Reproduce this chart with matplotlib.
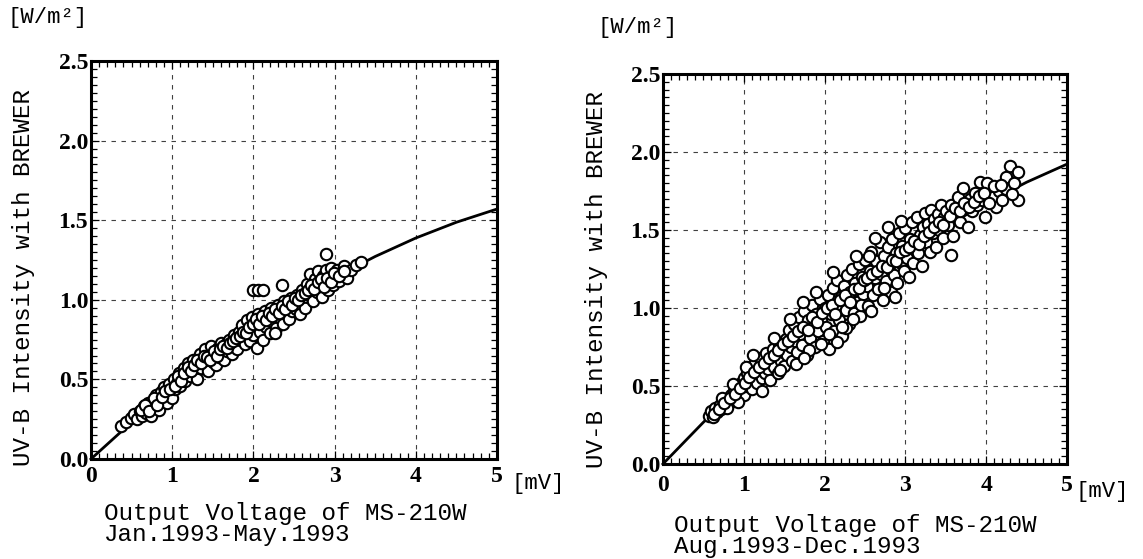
import matplotlib
matplotlib.use("Agg")
import matplotlib.pyplot as plt
import numpy as np
from matplotlib.ticker import MultipleLocator

# fitted curves
fit_x = [0.0, 0.5, 1.0, 1.5, 2.0, 2.5, 3.0, 3.5, 4.0, 4.5, 5.0]
fit_jan = [0.0, 0.231, 0.446, 0.644, 0.826, 0.990, 1.140, 1.272, 1.388, 1.487, 1.570]
fit_aug = [0.0, 0.267, 0.518, 0.752, 0.969, 1.170, 1.354, 1.521, 1.672, 1.806, 1.922]

# Jan.1993-May.1993 points (mV, W/m2)
pts_jan = [
    (0.37, 0.21), (0.43, 0.23), (0.49, 0.26), (0.53, 0.28), (0.57, 0.25), (0.60, 0.30), (0.63, 0.27),
    (0.65, 0.33), (0.68, 0.29), (0.70, 0.35), (0.72, 0.31), (0.74, 0.27), (0.76, 0.36), (0.78, 0.33),
    (0.80, 0.40), (0.82, 0.35), (0.84, 0.31), (0.86, 0.42), (0.88, 0.37), (0.90, 0.45), (0.92, 0.40),
    (0.94, 0.35), (0.96, 0.47), (0.98, 0.42), (1.00, 0.38),
    (1.02, 0.50), (1.04, 0.44), (1.06, 0.48), (1.08, 0.54), (1.10, 0.46), (1.12, 0.51), (1.14, 0.57),
    (1.16, 0.49), (1.18, 0.53), (1.20, 0.60), (1.22, 0.52), (1.24, 0.56), (1.26, 0.62), (1.28, 0.55),
    (1.30, 0.50), (1.32, 0.59), (1.34, 0.66), (1.36, 0.57), (1.38, 0.62), (1.40, 0.69), (1.42, 0.60),
    (1.44, 0.55), (1.46, 0.65), (1.48, 0.71), (1.50, 0.61),
    (1.52, 0.67), (1.54, 0.59), (1.56, 0.70), (1.58, 0.64), (1.60, 0.73), (1.62, 0.66), (1.64, 0.62),
    (1.66, 0.72), (1.68, 0.68), (1.70, 0.75), (1.72, 0.70), (1.74, 0.66), (1.76, 0.78), (1.78, 0.72),
    (1.80, 0.69), (1.82, 0.80), (1.84, 0.75), (1.86, 0.84), (1.88, 0.77), (1.90, 0.72), (1.92, 0.87),
    (1.94, 0.80), (1.96, 0.74), (1.98, 0.89), (2.00, 0.78),
    (2.02, 0.84), (2.04, 0.70), (2.06, 0.91), (2.08, 0.80), (2.10, 0.87), (2.12, 0.75), (2.14, 0.93),
    (2.16, 0.83), (2.18, 0.88), (2.20, 0.79), (2.22, 0.95), (2.24, 0.86), (2.26, 0.91), (2.28, 0.82),
    (2.30, 0.97), (2.32, 0.89), (2.34, 0.94), (2.36, 0.85), (2.38, 0.99), (2.40, 0.91), (2.42, 0.96),
    (2.44, 0.88), (2.46, 1.01), (2.48, 0.93), (2.50, 0.98),
    (2.52, 0.94), (2.54, 1.03), (2.56, 0.97), (2.58, 0.91), (2.60, 1.06), (2.62, 1.00), (2.64, 0.95),
    (2.66, 1.10), (2.68, 1.03), (2.70, 1.16), (2.72, 1.07), (2.74, 0.99), (2.76, 1.13), (2.78, 1.05),
    (2.80, 1.18), (2.82, 1.09), (2.84, 1.02), (2.86, 1.15), (2.88, 1.11), (2.90, 1.19), (2.92, 1.06),
    (2.94, 1.14), (2.96, 1.20), (2.98, 1.09), (3.00, 1.15),
    (3.03, 1.19), (3.06, 1.12), (3.09, 1.17), (3.12, 1.21), (3.15, 1.14), (3.20, 1.19), (3.26, 1.22),
    (3.33, 1.24),
    (2.00, 1.06), (2.06, 1.06), (2.12, 1.06), (2.35, 1.09), (2.90, 1.29), (2.27, 0.79),
    (0.62, 0.31), (0.67, 0.34), (0.71, 0.30), (0.77, 0.38), (0.81, 0.34), (0.87, 0.39), (0.91, 0.43),
    (0.97, 0.44), (1.03, 0.46), (1.07, 0.52), (1.11, 0.49), (1.15, 0.54), (1.19, 0.58), (1.23, 0.55),
    (1.27, 0.59), (1.31, 0.62), (1.35, 0.60), (1.39, 0.65), (1.43, 0.64), (1.47, 0.62), (1.51, 0.68),
    (1.55, 0.65), (1.59, 0.69), (1.63, 0.71), (1.67, 0.70), (1.71, 0.73), (1.75, 0.74), (1.79, 0.76),
    (1.83, 0.77), (1.87, 0.80), (1.91, 0.79), (1.95, 0.83), (1.99, 0.85), (2.03, 0.88), (2.07, 0.85),
    (2.11, 0.90), (2.15, 0.87), (2.19, 0.92), (2.23, 0.90), (2.27, 0.94), (2.31, 0.92), (2.35, 0.96),
    (2.39, 0.94), (2.43, 0.99), (2.47, 0.97), (2.51, 1.01), (2.55, 1.00), (2.59, 1.03), (2.63, 1.04),
    (2.67, 1.06), (2.71, 1.09), (2.75, 1.07), (2.79, 1.11), (2.83, 1.13), (2.87, 1.08), (2.91, 1.14),
    (2.95, 1.11), (2.99, 1.17), (3.05, 1.15), (3.11, 1.18),
]

# Aug.1993-Dec.1993 points (mV, W/m2)
pts_aug = [
    (0.57, 0.31), (0.60, 0.34), (0.62, 0.30), (0.65, 0.36), (0.67, 0.33), (0.70, 0.38), (0.72, 0.35),
    (0.75, 0.40), (0.77, 0.37), (0.80, 0.42), (0.82, 0.39), (0.84, 0.44), (0.86, 0.41), (0.88, 0.47),
    (0.90, 0.43), (0.92, 0.50), (0.94, 0.45), (0.96, 0.52), (0.98, 0.47), (1.00, 0.55), (1.00, 0.44),
    (0.73, 0.42), (0.79, 0.36), (0.87, 0.51), (0.93, 0.40),
    (1.02, 0.50), (1.04, 0.58), (1.06, 0.53), (1.08, 0.62), (1.10, 0.48), (1.12, 0.56), (1.14, 0.65),
    (1.16, 0.52), (1.18, 0.60), (1.20, 0.68), (1.22, 0.55), (1.24, 0.63), (1.26, 0.58), (1.28, 0.71),
    (1.30, 0.61), (1.32, 0.54), (1.34, 0.67), (1.36, 0.74), (1.38, 0.62), (1.40, 0.69), (1.42, 0.58),
    (1.44, 0.77), (1.46, 0.66), (1.48, 0.72), (1.50, 0.63), (1.11, 0.70), (1.23, 0.47), (1.37, 0.81),
    (1.45, 0.60), (1.03, 0.62),
    (1.52, 0.80), (1.54, 0.70), (1.56, 0.86), (1.58, 0.75), (1.60, 0.66), (1.62, 0.90), (1.64, 0.79),
    (1.66, 0.72), (1.68, 0.94), (1.70, 0.83), (1.72, 0.76), (1.74, 0.98), (1.76, 0.87), (1.78, 0.70),
    (1.80, 0.92), (1.82, 0.81), (1.84, 1.02), (1.86, 0.88), (1.88, 0.75), (1.90, 0.96), (1.92, 0.85),
    (1.94, 1.06), (1.96, 0.92), (1.98, 0.79), (2.00, 1.00), (1.57, 0.93), (1.65, 0.64), (1.73, 1.04),
    (1.81, 0.73), (1.89, 1.10),
    (2.02, 0.88), (2.04, 1.08), (2.06, 0.74), (2.08, 0.96), (2.10, 1.13), (2.12, 0.85), (2.14, 1.02),
    (2.16, 1.18), (2.18, 0.92), (2.20, 1.07), (2.22, 0.82), (2.24, 1.14), (2.26, 0.99), (2.28, 1.21),
    (2.30, 0.90), (2.32, 1.10), (2.34, 1.25), (2.36, 0.97), (2.38, 1.16), (2.40, 1.04), (2.42, 1.28),
    (2.44, 0.95), (2.46, 1.20), (2.48, 1.09), (2.50, 1.31), (2.15, 0.78), (2.27, 0.87), (2.39, 1.33),
    (2.45, 1.02), (2.11, 1.23),
    (2.52, 1.14), (2.54, 1.01), (2.56, 1.24), (2.58, 1.36), (2.60, 1.08), (2.62, 1.19), (2.64, 1.30),
    (2.66, 1.12), (2.68, 1.42), (2.70, 1.22), (2.72, 1.05), (2.74, 1.33), (2.76, 1.17), (2.78, 1.39),
    (2.80, 1.27), (2.82, 1.10), (2.84, 1.44), (2.86, 1.21), (2.88, 1.35), (2.90, 1.16), (2.92, 1.48),
    (2.94, 1.29), (2.96, 1.40), (2.98, 1.24), (3.00, 1.51), (2.63, 1.45), (2.79, 1.52), (2.87, 1.07),
    (2.95, 1.56), (2.55, 1.33),
    (3.02, 1.32), (3.04, 1.20), (3.06, 1.44), (3.08, 1.55), (3.10, 1.29), (3.12, 1.40), (3.14, 1.58),
    (3.16, 1.35), (3.18, 1.47), (3.20, 1.27), (3.22, 1.52), (3.24, 1.61), (3.26, 1.42), (3.28, 1.54),
    (3.30, 1.36), (3.32, 1.63), (3.34, 1.48), (3.36, 1.57), (3.38, 1.39), (3.40, 1.60), (3.42, 1.50),
    (3.44, 1.66), (3.46, 1.45), (3.48, 1.58), (3.50, 1.62),
    (3.53, 1.53), (3.56, 1.66), (3.59, 1.46), (3.62, 1.60), (3.65, 1.71), (3.68, 1.55), (3.71, 1.77),
    (3.74, 1.64), (3.77, 1.52), (3.80, 1.70), (3.83, 1.62), (3.86, 1.74), (3.89, 1.66), (3.92, 1.81),
    (3.95, 1.69), (3.98, 1.58), (4.01, 1.80), (4.04, 1.72),
    (4.08, 1.71), (4.12, 1.65), (4.16, 1.75), (4.20, 1.69), (4.25, 1.76), (4.25, 1.84), (4.29, 1.91),
    (4.35, 1.80), (4.39, 1.87), (4.39, 1.69), (4.32, 1.73), (3.57, 1.34),
    (0.63, 0.32), (0.69, 0.35), (0.76, 0.39), (0.83, 0.42), (0.89, 0.45), (0.95, 0.49), (1.01, 0.52),
    (1.07, 0.56), (1.13, 0.59), (1.19, 0.62), (1.25, 0.65), (1.31, 0.68), (1.37, 0.70), (1.43, 0.73),
    (1.49, 0.77), (1.55, 0.79), (1.61, 0.82), (1.67, 0.85), (1.73, 0.88), (1.79, 0.86), (1.85, 0.94),
    (1.91, 0.91), (1.97, 0.97), (2.03, 1.00), (2.09, 1.02), (2.13, 0.96), (2.19, 1.05), (2.25, 1.08),
    (2.31, 1.04), (2.37, 1.12), (2.43, 1.13), (2.49, 1.18), (2.53, 1.19), (2.59, 1.22), (2.65, 1.24),
    (2.71, 1.27), (2.77, 1.26), (2.83, 1.31), (2.89, 1.30), (2.93, 1.36), (2.99, 1.37), (3.05, 1.39),
    (3.11, 1.43), (3.17, 1.41), (3.23, 1.46), (3.29, 1.49), (3.35, 1.52), (3.41, 1.55), (3.47, 1.53),
    (3.55, 1.59), (3.61, 1.64), (3.67, 1.62), (3.73, 1.67), (3.79, 1.65), (3.85, 1.68), (3.91, 1.72),
    (3.97, 1.74), (4.03, 1.67), (4.10, 1.78), (4.18, 1.79),
    (1.75, 0.68), (1.95, 0.77), (2.05, 0.83), (2.21, 0.88), (2.35, 0.93), (2.57, 0.98), (2.73, 1.13),
]

ylabel_txt = 'UV-B Intensity with BREWER'
xlabel_txt = 'Output Voltage of MS-210W'
period_jan = 'Jan.1993-May.1993'
period_aug = 'Aug.1993-Dec.1993'

mono = ['Liberation Mono', 'DejaVu Sans Mono']
serif = ['Liberation Serif', 'DejaVu Serif']

fig = plt.figure(figsize=(11.43, 5.59), dpi=100)
ax1 = fig.add_axes([0.0796, 0.1789, 0.3552, 0.712])
ax2 = fig.add_axes([0.580, 0.170, 0.3535, 0.6977])


def style_panel(ax, xpad):
    ax.set_xlim(0, 5)
    ax.set_ylim(0, 2.5)
    ax.xaxis.set_major_locator(MultipleLocator(1))
    ax.xaxis.set_minor_locator(MultipleLocator(0.1))
    ax.yaxis.set_major_locator(MultipleLocator(0.5))
    ax.yaxis.set_minor_locator(MultipleLocator(0.05))
    ax.tick_params(which='both', direction='in', top=True, right=True, width=0.9, color='black')
    ax.tick_params(which='major', length=6)
    ax.tick_params(which='minor', length=4)
    ax.tick_params(axis='x', which='major', pad=xpad)
    ax.tick_params(axis='y', which='major', pad=2)
    ax.yaxis.set_major_formatter(plt.FuncFormatter(lambda v, p: '%.1f' % v))
    ax.xaxis.set_major_formatter(plt.FuncFormatter(lambda v, p: '%d' % v))
    for lab in ax.get_xticklabels() + ax.get_yticklabels():
        lab.set_family(serif)
        lab.set_fontweight('bold')
        lab.set_fontsize(17)
    for sp in ax.spines.values():
        sp.set_linewidth(2.2)
    ax.grid(True, which='major', color='0.25', linewidth=0.8, linestyle=(0, (4, 5)))
    ax.set_axisbelow(True)


#Jan-May panel
xy = np.array(pts_jan)
ax1.plot(fit_x, fit_jan, color='black', linewidth=2.0, zorder=2, clip_on=False)
ax1.plot(xy[:, 0], xy[:, 1], 'o', ms=8.2, mfc='white', mec='black', mew=1.5, zorder=3)
style_panel(ax1, 5)

#Aug-Dec panel
xy = np.array(pts_aug)
ax2.plot(fit_x, fit_aug, color='black', linewidth=2.0, zorder=2, clip_on=False)
ax2.plot(xy[:, 0], xy[:, 1], 'o', ms=8.2, mfc='white', mec='black', mew=1.5, zorder=3)
style_panel(ax2, 8)

# labels, placed in pixels of the 1143x559 figure
W, H = 1143.0, 559.0


def ftext(x, y, s, **kw):
    fig.text(x / W, 1 - y / H, s, **kw)


ftext(8, 18, '[W/m\u00b2]', family=mono, fontsize=16, va='center', ha='left')
ftext(597, 27, '[W/m\u00b2]', family=mono, fontsize=16, va='center', ha='left')

ftext(24, 277, ylabel_txt, family=mono, fontsize=17.5, rotation=90, va='center', ha='center')
ftext(596, 280, ylabel_txt, family=mono, fontsize=17.5, rotation=90, va='center', ha='center')

ftext(511, 483, '[mV]', family=mono, fontsize=16, va='center', ha='left')
ftext(1076, 492, '[mV]', family=mono, fontsize=16, va='center', ha='left')

# two-line x captions as one text each
ftext(104, 524, xlabel_txt + '\n' + period_jan, family=mono, fontsize=17.5,
      va='center', ha='left', linespacing=0.9)
ftext(674, 536, xlabel_txt + '\n' + period_aug, family=mono, fontsize=17.5,
      va='center', ha='left', linespacing=0.9)

fig.savefig('out.png', dpi=100)
